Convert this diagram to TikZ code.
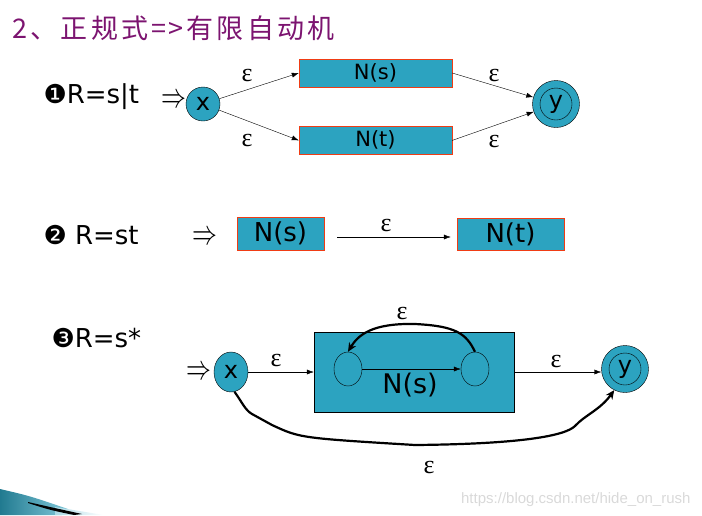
\documentclass[tikz,border=0pt]{standalone}
\usepackage{fontspec}
\setmainfont{DejaVu Sans}
\newfontfamily\cjk[LetterSpace=12]{Noto Sans CJK SC}
\newfontfamily\greek{Liberation Serif}
\newfontfamily\web{Liberation Sans}
\usetikzlibrary{positioning,shapes.geometric,arrows.meta}
\definecolor{boxblue}{HTML}{2CA3C0}
\definecolor{boxline}{HTML}{F03C14}
\definecolor{titlepurple}{HTML}{7C1470}
\newcommand{\fs}[1]{\fontsize{#1}{#1}\selectfont}
\newcommand{\eps}{{\greek\fs{26}ε}}
\newcommand{\start}{\scalebox{1}[1.4]{$\Rightarrow$}}

\begin{document}
\begin{tikzpicture}[x=1pt,y=-1pt,
  state/.style={circle,draw,fill=boxblue,inner sep=0pt,minimum size=34pt,font=\fs{24}},
  nfa/.style={rectangle,draw=boxline,fill=boxblue,inner sep=0pt},
  hole/.style={ellipse,draw,fill=boxblue,inner sep=0pt,minimum width=28pt,minimum height=34pt},
  arr/.style={-{Latex[length=7pt,width=5pt]}},
  loopedge/.style={line width=2.2pt,-{Stealth[length=9pt,width=8pt]}},
  lbl/.style={anchor=base west,font=\fs{26}}]
\useasboundingbox (0,0) rectangle (702,515);

\shade[left color=boxblue!75!black,right color=boxblue!60] (0,489) .. controls (30,496) .. (68,509) -- (62,515) -- (0,515) -- cycle;
\shade[left color=boxblue!40,right color=white] (55,507) -- (104,515) -- (55,515) -- cycle;
\fill (28,502) .. controls (50,507) .. (82,514) -- (74,515) .. controls (50,510) .. (28,503) -- cycle;

\node (T) [anchor=base west,text=titlepurple,font=\cjk\fs{27}] at (9,38) {2、正规式=\hspace{2pt}>\hspace{3pt}有限自动机};

\node (R1) [lbl] at (40,103) {❶R=s|t};
\node (G1) [font=\fs{24}] at (174,101) {\start};
\node (X1) [state] at (203,104) {x};
\node (S1) [nfa,minimum width=153pt,minimum height=28pt,font=\fs{21}] at (375.5,73) {N(s)};
\node (T1) [nfa,minimum width=153pt,minimum height=28pt,font=\fs{21},below=39pt of S1] {N(t)};
\node (Y1) [state,minimum size=47pt] at (556,104) {};
\node (Y1in) [state,minimum size=32pt] at (Y1) {y};
\draw[arr] (X1) -- (S1.west);
\draw[arr] (X1) -- (T1.west);
\draw[arr] (S1.east) -- (Y1);
\draw[arr] (T1.east) -- (Y1);
\node (e1) at (247,75) {\eps};
\node (e2) at (247,140) {\eps};
\node (e3) at (494,75) {\eps};
\node (e4) at (494,141) {\eps};

\node (R2) [lbl] at (40,244) {❷ R=st};
\node (G2) [font=\fs{24}] at (205,238) {\start};
\node (S2) [nfa,minimum width=87pt,minimum height=33pt,font=\fs{26}] at (280.5,233.5) {N(s)};
\node (T2) [nfa,minimum width=107pt,minimum height=32pt,font=\fs{26}] at (510.5,234) {N(t)};
\draw[arr] ([shift={(13,3.5)}]S2.east) -- ([shift={(-6,3)}]T2.west);
\node (e5) at (386,225) {\eps};

\node (R3) [lbl] at (48,347) {❸R=s*};
\node (G3) [font=\fs{24}] at (199,373) {\start};
\node (X3) [state,ellipse,minimum width=34pt,minimum height=40pt] at (231,372) {x};
\node (B3) [draw,fill=boxblue,minimum width=200pt,minimum height=80pt,inner sep=0pt] at (414,372) {};
\node (Ns) [font=\fs{27}] at (410,385) {N(s)};
\node (L3) [hole] at (348,369) {};
\node (M3) [hole] at (475,369) {};
\node (Y3) [state,minimum size=47pt] at (625,369) {};
\node (Y3in) [state,minimum size=32pt] at (Y3) {y};
\draw[arr] (X3) -- (B3.west);
\draw[arr] (L3) -- (M3);
\draw[arr] (B3.east) -- (B3.east -| Y3.west);
\draw[loopedge] (M3.north) .. controls (466,333) and (455,326) .. (415,324) .. controls (372,323) and (358,335) .. (L3.north);
\draw[loopedge] (X3.-80) .. controls (242,402) and (245,410) .. (252,414) -- (272,425) .. controls (300,438) .. (415,445) .. controls (520,444) and (565,436) .. (575,426) .. controls (585,415) and (600,410) .. (Y3.-117);
\node (e6) at (276,360) {\eps};
\node (e7) at (402,313) {\eps};
\node (e8) at (556,361) {\eps};
\node (e9) at (429,467) {\eps};

\node (W) [anchor=base east,text=black!15,font=\web\fs{15}] at (694,503) {https://blog.csdn.net/hide\_on\_rush};
\end{tikzpicture}
\end{document}
